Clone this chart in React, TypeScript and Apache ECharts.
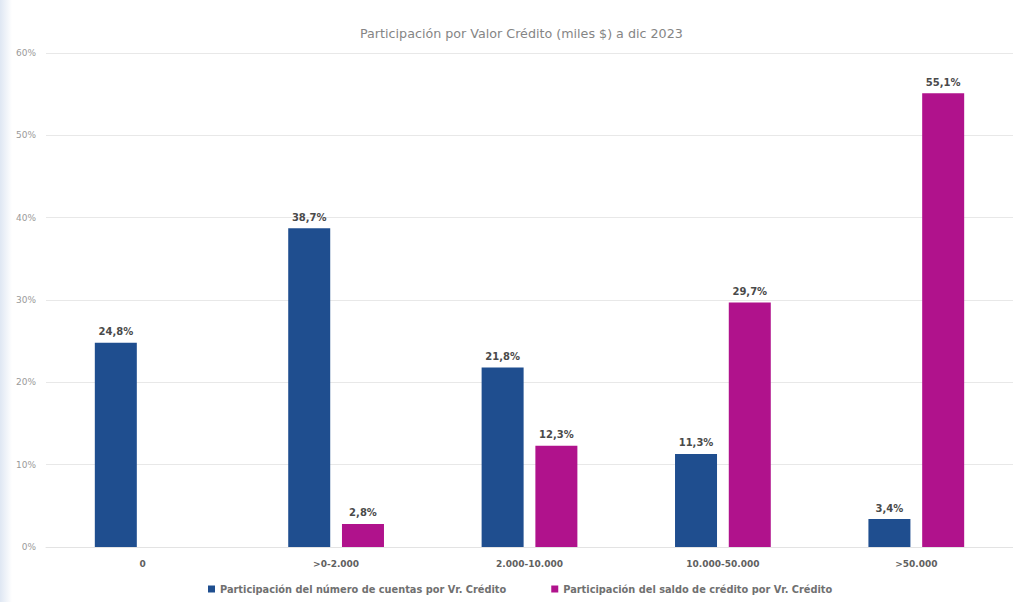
import React, { useEffect, useRef } from "react";
import * as echarts from "echarts";

const categories = ["0", ">0-2.000", "2.000-10.000", "10.000-50.000", ">50.000"];
const cuentas = [24.8, 38.7, 21.8, 11.3, 3.4];
const saldo = [null, 2.8, 12.3, 29.7, 55.1];
const seriesNames = [
  "Participación del número de cuentas por Vr. Crédito",
  "Participación del saldo de crédito por Vr. Crédito",
];
const titleText = "Participación por Valor Crédito (miles $) a dic 2023";

const FONT = "'DejaVu Sans', sans-serif";

export default function App() {
  const ref = useRef<HTMLDivElement>(null);
  useEffect(() => {
    document.body.style.margin = "0";
    const chart = echarts.init(ref.current!, undefined, { renderer: "svg" });
    const labelFmt = (p: any) =>
      p.value == null ? "" : String(p.value.toFixed(1)).replace(".", ",") + "%";
    const barLabel = {
      show: true,
      position: "top",
      distance: 6,
      fontFamily: FONT,
      fontSize: 10,
      fontWeight: "bold",
      color: "#4a4a4a",
      formatter: labelFmt,
    };
    chart.setOption({
      animation: false,
      backgroundColor: "#ffffff",
      textStyle: { fontFamily: FONT },
      graphic: [
        {
          type: "rect",
          left: 0,
          top: 0,
          shape: { width: 12, height: 602 },
          style: {
            fill: new echarts.graphic.LinearGradient(0, 0, 1, 0, [
              { offset: 0, color: "#dfe7f3" },
              { offset: 1, color: "#ffffff" },
            ]),
          },
          silent: true,
          z: -1,
        },
      ],
      title: {
        text: titleText,
        left: 355,
        top: 22,
        textStyle: { fontFamily: FONT, fontSize: 12.7, fontWeight: "normal", color: "#858585" },
      },
      legend: {
        bottom: 3,
        left: 203,
        itemWidth: 7,
        itemHeight: 7,
        itemGap: 45,
        icon: "rect",
        textStyle: { fontFamily: FONT, fontSize: 9.8, fontWeight: "bold", color: "#707070" },
      },
      grid: { left: 46, right: 0, top: 53, bottom: 55, containLabel: false },
      xAxis: {
        type: "category",
        data: categories,
        axisLine: { show: true, lineStyle: { color: "#e3e3e3" } },
        axisTick: { show: false },
        axisLabel: { fontFamily: FONT, fontSize: 9, fontWeight: "bold", color: "#606060", margin: 12 },
      },
      yAxis: {
        type: "value",
        min: 0,
        max: 60,
        interval: 10,
        axisLine: { show: false },
        axisTick: { show: false },
        splitLine: { lineStyle: { color: "#e8e8e8" } },
        axisLabel: {
          fontFamily: FONT,
          fontSize: 9,
          color: "#9a9a9a",
          margin: 10,
          formatter: (v: number) => v + "%",
        },
      },
      series: [
        {
          name: seriesNames[0],
          type: "bar",
          data: cuentas,
          barWidth: 42,
          barGap: "28%",
          itemStyle: { color: "#1f4e8f" },
          label: barLabel,
        },
        {
          name: seriesNames[1],
          type: "bar",
          data: saldo,
          barWidth: 42,
          itemStyle: { color: "#b0128c" },
          label: barLabel,
        },
      ],
    });
    return () => chart.dispose();
  }, []);
  return (
    <div
      ref={ref}
      style={{ position: "absolute", left: 0, top: 0, width: 1013, height: 602 }}
    />
  );
}
